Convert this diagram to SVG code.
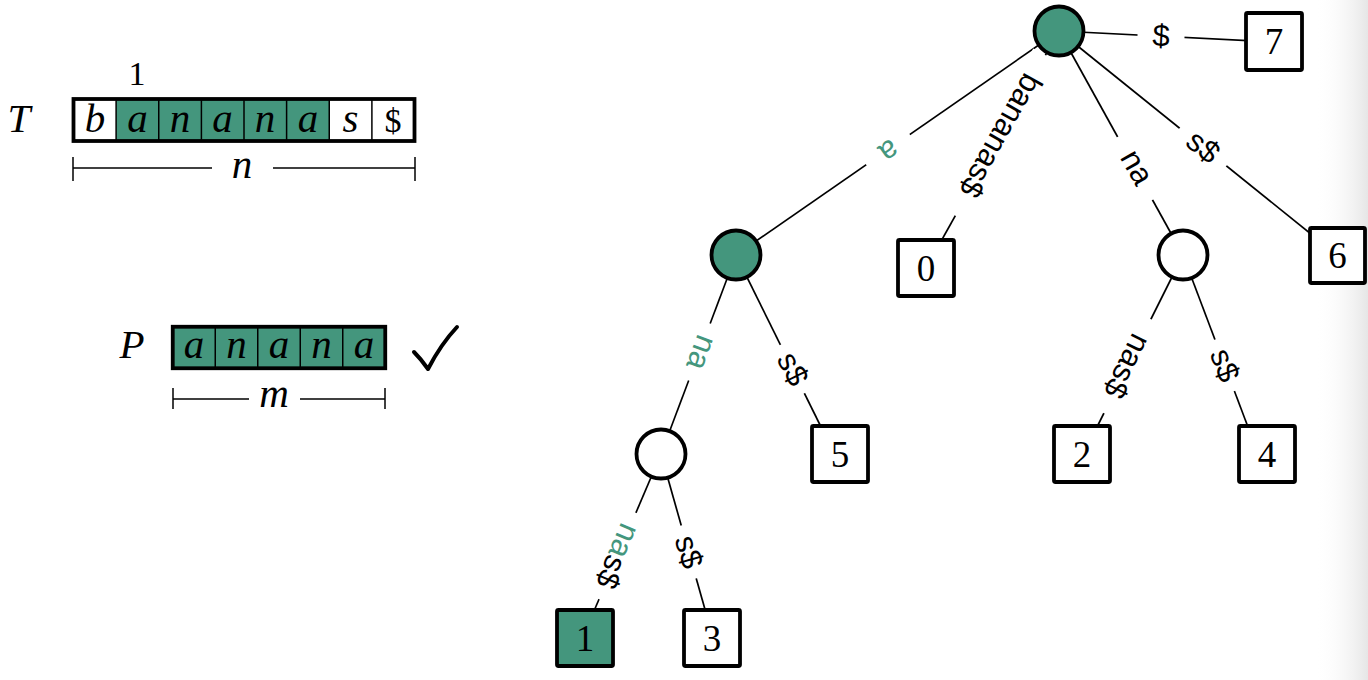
<svg xmlns="http://www.w3.org/2000/svg" width="1368" height="680" viewBox="0 0 1368 680">
<style>
.math{font-family:"Liberation Serif",serif;font-style:italic;font-size:41px;fill:#000}
.rm{font-family:"Liberation Serif",serif;font-size:34px;fill:#000}
.num{font-family:"Liberation Serif",serif;font-size:37px;fill:#000;text-anchor:middle}
.lbl{font-family:"Liberation Sans",Arial,sans-serif;font-size:31px;fill:#000;text-anchor:middle}
.g{fill:#44967D}
.cellline{stroke:#000;stroke-width:1.5}
.frame{fill:none;stroke:#000;stroke-width:3.8}
.dim{stroke:#000;stroke-width:1.5;fill:none}
.edge{stroke:#000;stroke-width:1.7;fill:none}
.circ{stroke:#000;stroke-width:3.8}
.box{stroke:#000;stroke-width:3.8}
.gap{fill:#fff}
</style>
<defs>
<linearGradient id="shade" gradientUnits="userSpaceOnUse" x1="1315" y1="0" x2="1368" y2="0">
<stop offset="0" stop-color="#ffffff" stop-opacity="0"/>
<stop offset="1" stop-color="#e6e6e6" stop-opacity="1"/>
</linearGradient>
</defs>
<rect x="0" y="0" width="1368" height="680" fill="#fff"/>
<rect x="1315" y="0" width="53" height="680" fill="url(#shade)"/>

<g id="text-array">
<text class="math" x="19" y="132" text-anchor="middle">T</text>
<text class="rm" x="137" y="85" text-anchor="middle">1</text>
<rect x="73.5" y="99" width="341" height="42" fill="#fff"/>
<rect x="116.1" y="99" width="213.1" height="42" class="g"/>
<g class="cellline">
<line x1="116.1" y1="99" x2="116.1" y2="141"/>
<line x1="158.75" y1="99" x2="158.75" y2="141"/>
<line x1="201.4" y1="99" x2="201.4" y2="141"/>
<line x1="244" y1="99" x2="244" y2="141"/>
<line x1="286.6" y1="99" x2="286.6" y2="141"/>
<line x1="329.25" y1="99" x2="329.25" y2="141"/>
<line x1="371.9" y1="99" x2="371.9" y2="141"/>
</g>
<rect x="73.5" y="99" width="341" height="42" class="frame"/>
<g text-anchor="middle">
<text class="math" x="95" y="132">b</text>
<text class="math" x="137.5" y="132">a</text>
<text class="math" x="180" y="132">n</text>
<text class="math" x="222.5" y="132">a</text>
<text class="math" x="265" y="132">n</text>
<text class="math" x="308" y="132">a</text>
<text class="math" x="350.5" y="132">s</text>
<text class="rm" x="393" y="132">$</text>
</g>
<g class="dim">
<line x1="73" y1="157" x2="73" y2="181"/>
<line x1="415" y1="157" x2="415" y2="181"/>
<line x1="73" y1="168" x2="212" y2="168"/>
<line x1="273" y1="168" x2="415" y2="168"/>
</g>
<text class="math" x="242" y="178" text-anchor="middle">n</text>
</g>

<g id="pattern-array">
<text class="math" x="132" y="358" text-anchor="middle">P</text>
<rect x="172.75" y="326.75" width="212.5" height="41.5" class="g"/>
<g class="cellline">
<line x1="215.25" y1="326.75" x2="215.25" y2="368.25"/>
<line x1="257.75" y1="326.75" x2="257.75" y2="368.25"/>
<line x1="300.25" y1="326.75" x2="300.25" y2="368.25"/>
<line x1="342.75" y1="326.75" x2="342.75" y2="368.25"/>
</g>
<rect x="172.75" y="326.75" width="212.5" height="41.5" class="frame"/>
<g text-anchor="middle">
<text class="math" x="194" y="358">a</text>
<text class="math" x="236.5" y="358">n</text>
<text class="math" x="279" y="358">a</text>
<text class="math" x="321.5" y="358">n</text>
<text class="math" x="364" y="358">a</text>
</g>
<g class="dim">
<line x1="173" y1="388" x2="173" y2="409"/>
<line x1="385" y1="388" x2="385" y2="409"/>
<line x1="173" y1="399" x2="249" y2="399"/>
<line x1="300" y1="399" x2="385" y2="399"/>
</g>
<text class="math" x="274" y="407" text-anchor="middle">m</text>
<path d="M414,352 Q421,359 428,369 Q441,344 457,327" fill="none" stroke="#000" stroke-width="4" stroke-linecap="round" stroke-linejoin="round"/>
</g>

<g id="connectors">
<line class="edge" x1="1059" y1="31" x2="1274" y2="42"/>
<line class="edge" x1="1059" y1="31" x2="736" y2="255"/>
<line class="edge" x1="1059" y1="31" x2="926" y2="268"/>
<line class="edge" x1="1059" y1="31" x2="1183" y2="255"/>
<line class="edge" x1="1059" y1="31" x2="1337" y2="255"/>
<line class="edge" x1="736" y1="255" x2="661" y2="454"/>
<line class="edge" x1="736" y1="255" x2="826" y2="437"/>
<line class="edge" x1="661" y1="454" x2="591" y2="618"/>
<line class="edge" x1="661" y1="454" x2="708" y2="620"/>
<line class="edge" x1="1183" y1="255" x2="1094" y2="433"/>
<line class="edge" x1="1183" y1="255" x2="1251" y2="435"/>

<g transform="translate(1161,36.2) rotate(2.9)"><rect class="gap" x="-23.5" y="-14" width="47" height="28"/><text class="lbl" y="10">$</text></g>
<g transform="translate(888,149.6) rotate(145.3)"><rect class="gap" x="-26.5" y="-14" width="53" height="28"/><text class="lbl" y="8" style="fill:#44967D">a</text></g>
<g transform="translate(1000.5,135.5) rotate(119.3)"><rect class="gap" x="-92" y="-14" width="184" height="28"/><text class="lbl" y="10">bananas$</text></g>
<g transform="translate(1135,168.4) rotate(60.8)"><rect class="gap" x="-36" y="-14" width="72" height="28"/><text class="lbl" y="8">na</text></g>
<g transform="translate(1203,147) rotate(38.9)"><rect class="gap" x="-30" y="-14" width="60" height="28"/><text class="lbl" y="10">s$</text></g>
<g transform="translate(699.4,352) rotate(110.6)"><rect class="gap" x="-30.5" y="-14" width="61" height="28"/><text class="lbl" y="8" style="fill:#44967D">na</text></g>
<g transform="translate(792.5,369) rotate(63.7)"><rect class="gap" x="-27" y="-14" width="54" height="28"/><text class="lbl" y="10">s$</text></g>
<g transform="translate(617.5,556) rotate(113)"><rect class="gap" x="-47" y="-14" width="94" height="28"/><text class="lbl" y="10"><tspan style="fill:#44967D">na</tspan>s$</text></g>
<g transform="translate(688.5,552) rotate(74.5)"><rect class="gap" x="-27.5" y="-14" width="55" height="28"/><text class="lbl" y="10">s$</text></g>
<g transform="translate(1127,366) rotate(116.6)"><rect class="gap" x="-52.5" y="-14" width="105" height="28"/><text class="lbl" y="10">nas$</text></g>
<g transform="translate(1224.5,365.4) rotate(69.4)"><rect class="gap" x="-27.5" y="-14" width="55" height="28"/><text class="lbl" y="10">s$</text></g>
</g>

<g id="node-root"><circle class="circ g" cx="1059" cy="31" r="24.5"/></g>
<g id="node-a"><circle class="circ g" cx="736" cy="255" r="24.5"/></g>
<g id="node-ana"><circle class="circ" cx="661" cy="454" r="24.5" fill="#fff"/></g>
<g id="node-na"><circle class="circ" cx="1183" cy="255" r="24.5" fill="#fff"/></g>

<g id="leaf-7"><rect class="box" x="1246" y="13" width="56" height="57" rx="1.5" fill="#fff"/><text class="num" x="1274" y="54">7</text></g>
<g id="leaf-0"><rect class="box" x="898" y="240" width="56" height="56" rx="1.5" fill="#fff"/><text class="num" x="926" y="281">0</text></g>
<g id="leaf-6"><rect class="box" x="1310" y="228" width="55" height="55" rx="1.5" fill="#fff"/><text class="num" x="1337.5" y="268">6</text></g>
<g id="leaf-5"><rect class="box" x="812" y="426" width="56" height="56" rx="1.5" fill="#fff"/><text class="num" x="840" y="467">5</text></g>
<g id="leaf-2"><rect class="box" x="1054" y="426" width="56" height="56" rx="1.5" fill="#fff"/><text class="num" x="1082" y="467">2</text></g>
<g id="leaf-4"><rect class="box" x="1239" y="426" width="56" height="56" rx="1.5" fill="#fff"/><text class="num" x="1267" y="467">4</text></g>
<g id="leaf-1"><rect class="box g" x="557" y="610" width="56" height="56" rx="1.5"/><text class="num" x="585" y="651">1</text></g>
<g id="leaf-3"><rect class="box" x="684" y="610" width="56" height="56" rx="1.5" fill="#fff"/><text class="num" x="712" y="651">3</text></g>
</svg>
